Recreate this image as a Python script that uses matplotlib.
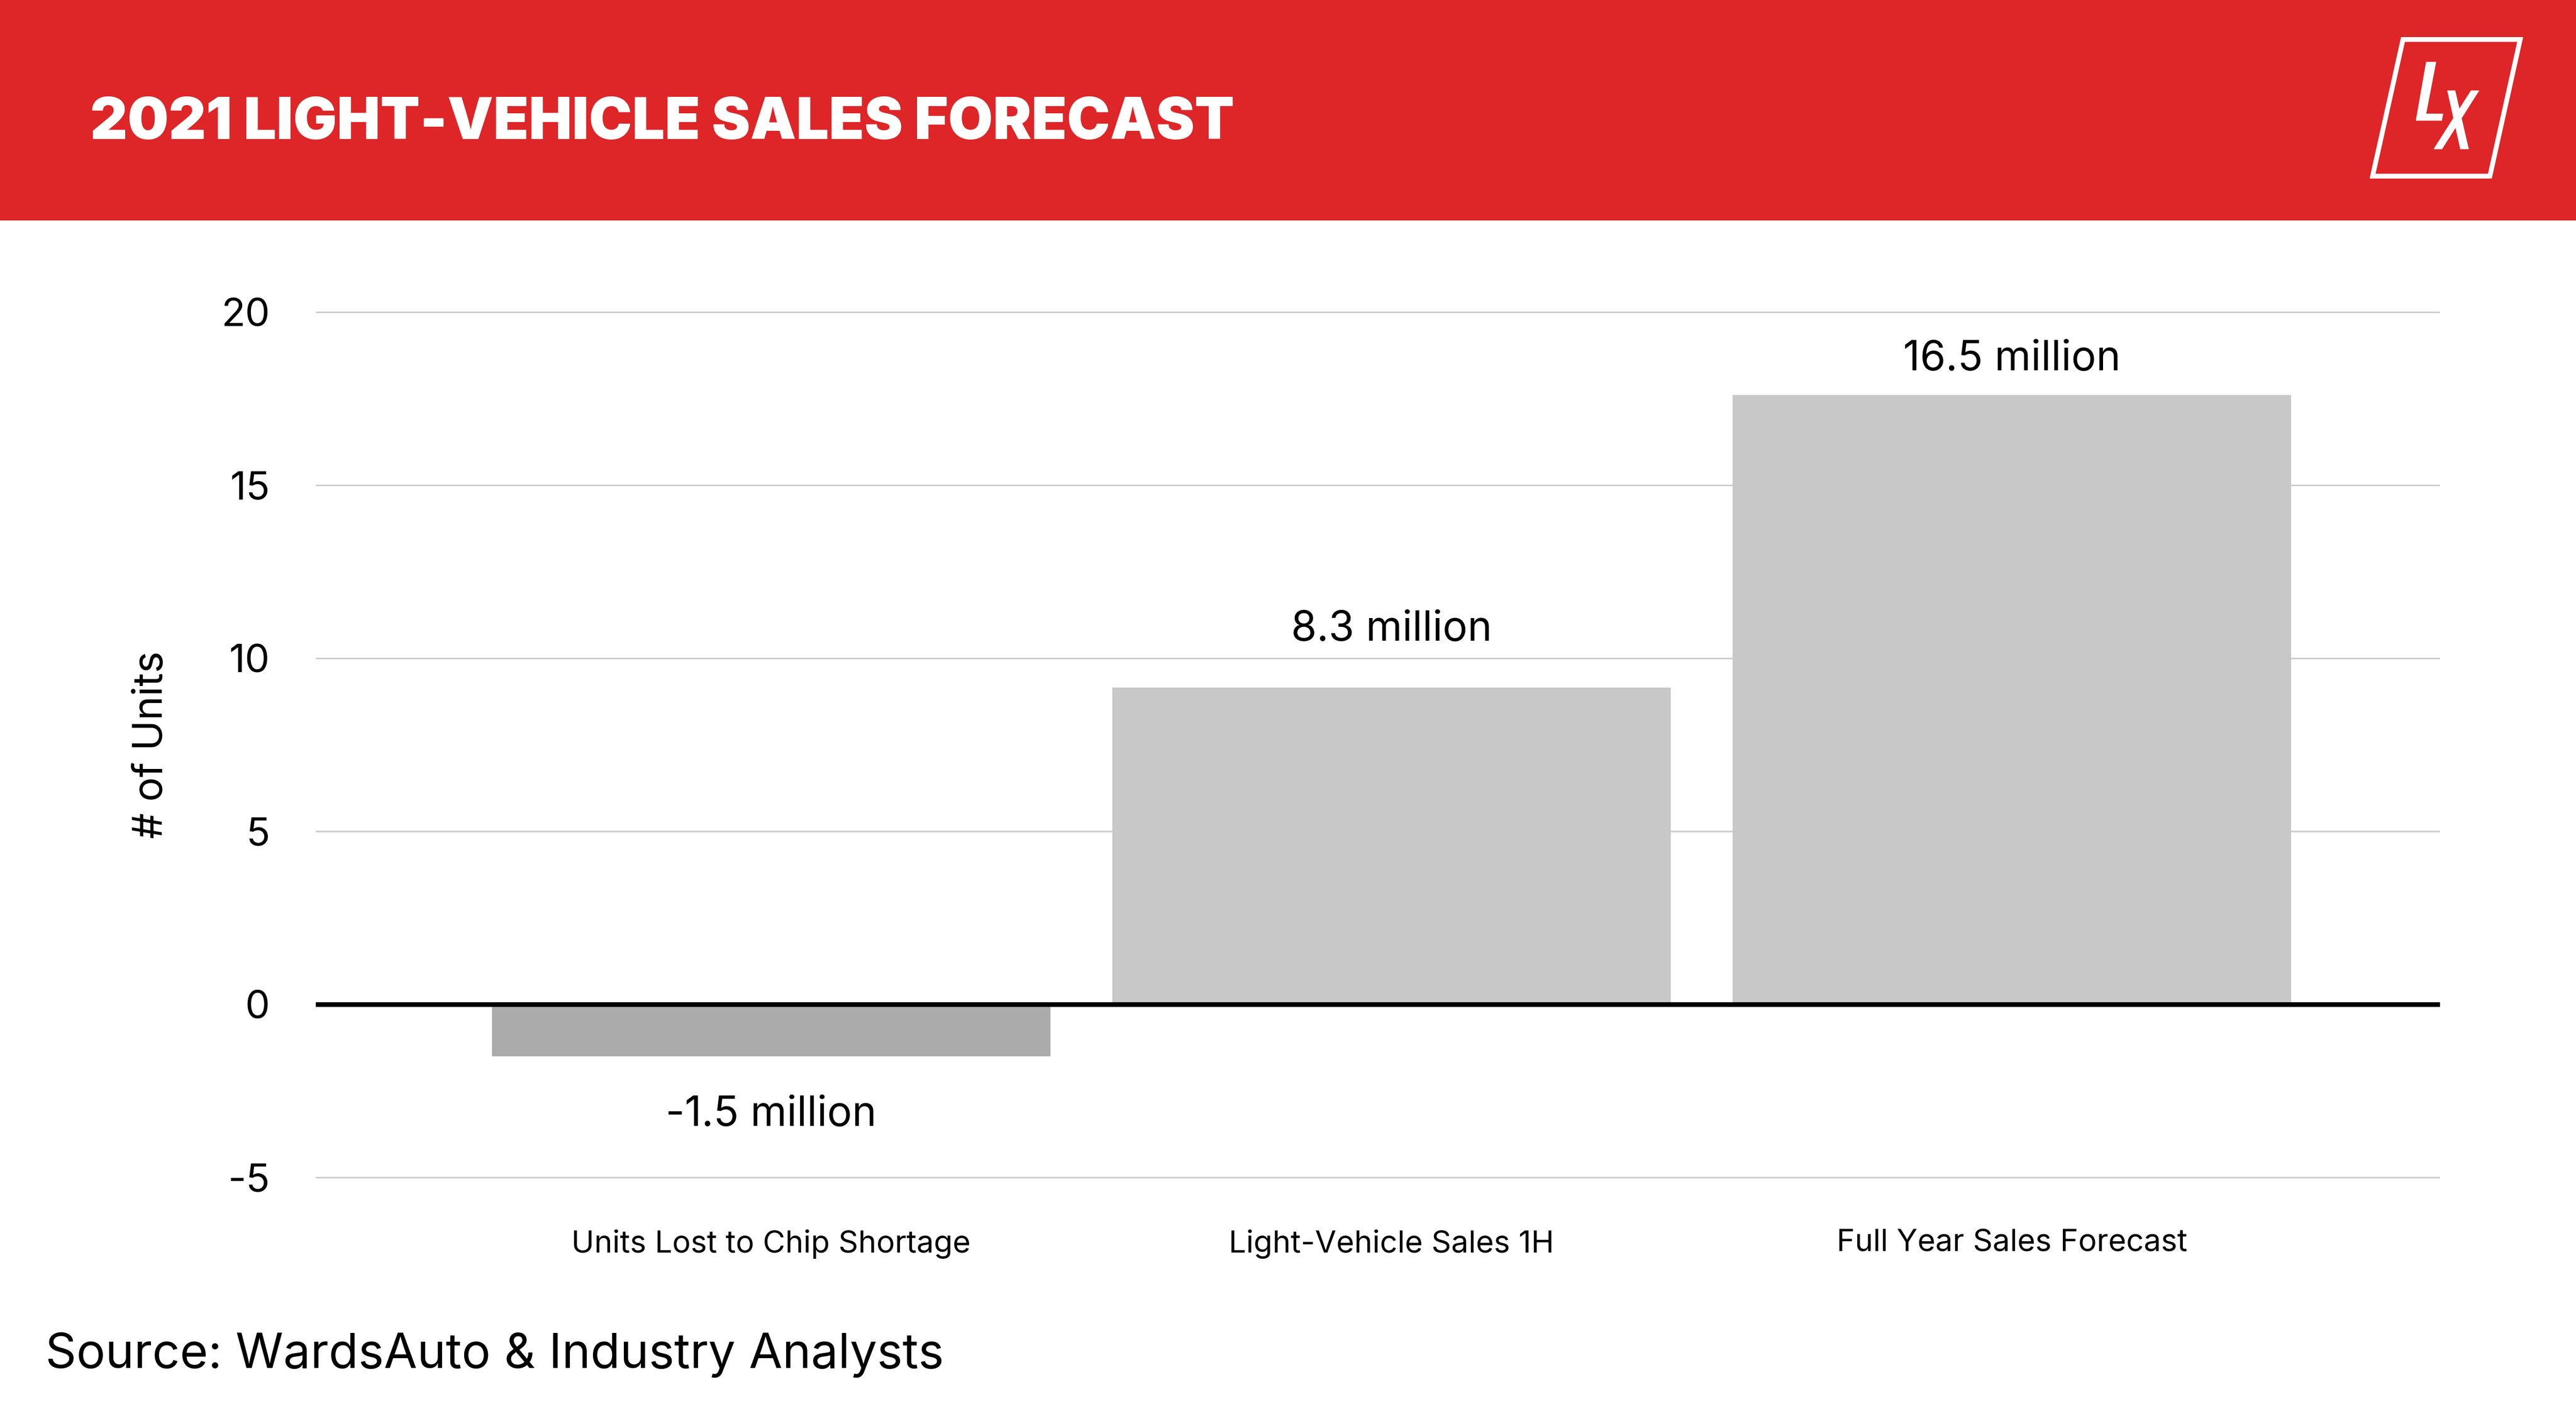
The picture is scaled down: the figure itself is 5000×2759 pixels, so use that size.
import matplotlib
matplotlib.use("Agg")
import matplotlib.pyplot as plt
from matplotlib.patches import Polygon, Rectangle
import numpy as np

# ---------------- data ----------------
categories = ["Units Lost to Chip Shortage", "Light-Vehicle Sales 1H", "Full Year Sales Forecast"]
bar_values = [-1.5, 9.15, 17.6]          # bar heights as drawn
value_labels = ["-1.5 million", "8.3 million", "16.5 million"]
y_ticks = [-5, 0, 5, 10, 15, 20]
y_tick_labels = ["-5", "0", "5", "10", "15", "20"]
title_text = "2021 LIGHT-VEHICLE SALES FORECAST"
ylabel_text = "# of Units"
source_text = "Source: WardsAuto & Industry Analysts"

# ---------------- style ----------------
W, H, DPI = 5000, 2759, 200
RED = "#DE2527"
BAR_COLORS = ["#ABABAB", "#C8C8C8", "#C8C8C8"]
GRID = "#CDCDCD"
FONT = "Inter"
label_offsets = [-2.0, 1.36, 0.73]   # baseline offset of value labels from bar end

plt.rcParams["font.family"] = [FONT, "DejaVu Sans"]

fig = plt.figure(figsize=(W / DPI, H / DPI), dpi=DPI)
fig.patch.set_facecolor("white")

# background / decoration axes in pixel coordinates
bg = fig.add_axes([0, 0, 1, 1], zorder=0)
bg.set_xlim(0, W)
bg.set_ylim(H, 0)
bg.axis("off")
bg.add_patch(Rectangle((0, 0), W, 428, facecolor=RED, edgecolor="none"))
bg.text(175, 270, title_text, color="white", fontsize=40.4, fontweight=900,
        ha="left", va="baseline")
bg.text(88, 2656, source_text, color="black", fontsize=33.8,
        ha="left", va="baseline")

# logo (zoom coords -> pixels)
def lp(pts):
    return [(4500 + x / 3.0, y / 3.0) for x, y in pts]

frame = lp([(492.5, 230), (1175, 230), (998.5, 1026), (315.5, 1026)])
bg.add_patch(Polygon(frame, closed=True, fill=False, edgecolor="white",
                     linewidth=3.36, joinstyle="miter"))
L_shape = lp([(627, 360), (686, 360), (628, 662), (727, 662), (719, 703), (567, 703)])
bg.add_patch(Polygon(L_shape, closed=True, facecolor="white", edgecolor="none"))
X1 = lp([(750, 527), (797, 527), (876, 869), (826, 869)])
X2 = lp([(888, 527), (937, 527), (720, 869), (670, 869)])
bg.add_patch(Polygon(X1, closed=True, facecolor="white", edgecolor="none"))
bg.add_patch(Polygon(X2, closed=True, facecolor="white", edgecolor="none"))

# ---------------- main chart ----------------
px_per_unit = 67.2
zero_px = 1950
ymin, ymax = -6, 21
ax_left_px, ax_right_px = 613, 4736
ax_bottom_px = zero_px - ymin * px_per_unit
ax_top_px = zero_px - ymax * px_per_unit
ax = fig.add_axes([ax_left_px / W, (H - ax_bottom_px) / H,
                   (ax_right_px - ax_left_px) / W, (ax_bottom_px - ax_top_px) / H],
                  zorder=1)
ax.patch.set_alpha(0)

x = np.arange(len(categories))
ax.bar(x, bar_values, width=0.9, color=BAR_COLORS, zorder=2)
ax.axhline(0, color="black", linewidth=3.3, zorder=3)

ax.set_ylim(ymin, ymax)
ax.set_xlim(-0.734, 2.690)
ax.set_yticks(y_ticks)
ax.set_yticklabels(y_tick_labels, fontsize=27.5)
ax.set_xticks(x)
ax.set_xticklabels(categories, fontsize=21.5)
ax.tick_params(axis="y", length=0, pad=32)
ax.tick_params(axis="x", length=0, pad=12)
ax.yaxis.grid(True, color=GRID, linewidth=1.1, zorder=0)
ax.set_axisbelow(True)
for s in ax.spines.values():
    s.set_visible(False)

for xi, v, lab, off in zip(x, bar_values, value_labels, label_offsets):
    ax.text(xi, v + off, lab, ha="center", va="baseline", fontsize=29, zorder=4)

ax.text(-0.0774, 0.5, ylabel_text, rotation=90, ha="center", va="center",
        fontsize=28.5, transform=ax.transAxes)

fig.savefig("out.png", dpi=DPI)
